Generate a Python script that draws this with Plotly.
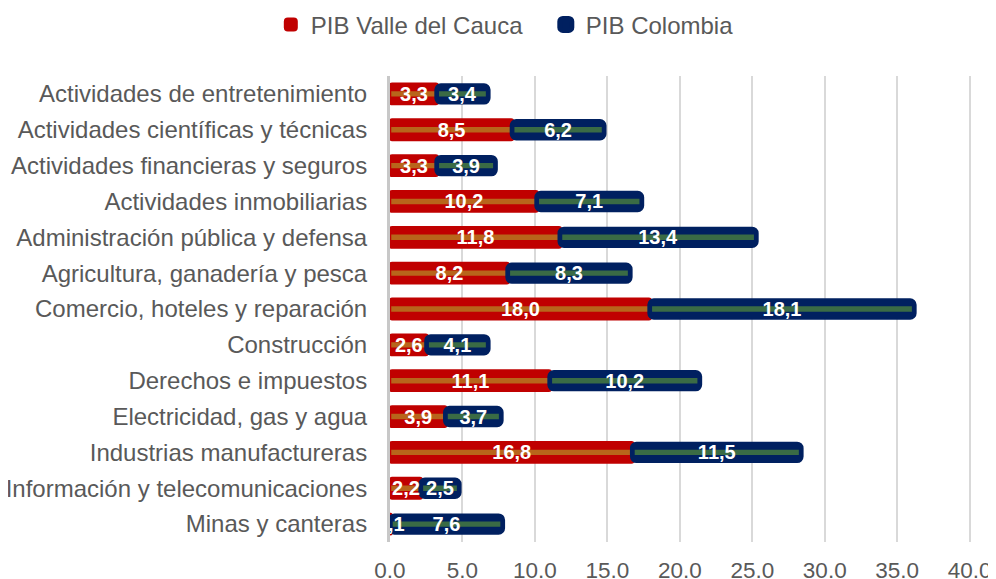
import plotly.graph_objects as go

categories = [
    "Actividades de entretenimiento",
    "Actividades científicas y técnicas",
    "Actividades financieras y seguros",
    "Actividades inmobiliarias",
    "Administración pública y defensa",
    "Agricultura, ganadería y pesca",
    "Comercio, hoteles y reparación",
    "Construcción",
    "Derechos e impuestos",
    "Electricidad, gas y agua",
    "Industrias manufactureras",
    "Información y telecomunicaciones",
    "Minas y canteras",
]
pib_valle = [3.3, 8.5, 3.3, 10.2, 11.8, 8.2, 18.0, 2.6, 11.1, 3.9, 16.8, 2.2, 0.1]
pib_colombia = [3.4, 6.2, 3.9, 7.1, 13.4, 8.3, 18.1, 4.1, 10.2, 3.7, 11.5, 2.5, 7.6]
x_ticks = [0, 5, 10, 15, 20, 25, 30, 35, 40]

RED = "#C00000"
BLUE = "#002060"
ORANGE = "#B8651B"
GREEN = "#3A6B45"
FONT = "Liberation Sans, Arial, sans-serif"

def fmt(v):
    return f"{v:.1f}".replace(".", ",")

label_font = dict(color="white", size=20, family=FONT, weight="bold")
zeros = [0] * len(pib_valle)

fig = go.Figure()

fig.add_trace(go.Bar(
    y=categories, x=pib_valle, base=zeros, orientation="h",
    name="PIB Valle del Cauca", width=0.58,
    marker=dict(color=RED, line=dict(color=RED, width=2), cornerradius=2),
    hoverinfo="skip", showlegend=True,
))
fig.add_trace(go.Bar(
    y=categories, x=pib_valle, base=zeros, orientation="h",
    width=0.22, marker=dict(color=ORANGE, line=dict(color=RED, width=2.5)),
    showlegend=False, hoverinfo="skip",
))
fig.add_trace(go.Bar(
    y=categories, x=pib_colombia, base=pib_valle, orientation="h",
    name="PIB Colombia", width=0.4,
    marker=dict(color=BLUE, line=dict(color=BLUE, width=7), cornerradius=3),
    hoverinfo="skip", showlegend=True,
))
fig.add_trace(go.Bar(
    y=categories, x=pib_colombia, base=pib_valle, orientation="h",
    width=0.22, marker=dict(color=GREEN, line=dict(color=BLUE, width=2.5)),
    text=[fmt(v) for v in pib_colombia], textposition="inside",
    insidetextanchor="middle", textangle=0, constraintext="none",
    textfont=label_font, cliponaxis=True,
    showlegend=False, hoverinfo="skip",
))
# Valle labels drawn on top of every bar
fig.add_trace(go.Bar(
    y=categories, x=pib_valle, base=zeros, orientation="h",
    width=0.22, marker=dict(color="rgba(0,0,0,0)", line=dict(width=0)),
    text=[fmt(v) for v in pib_valle], textposition="inside",
    insidetextanchor="middle", textangle=0, constraintext="none",
    textfont=label_font, cliponaxis=True,
    showlegend=False, hoverinfo="skip",
))

fig.update_layout(
    width=988, height=571,
    margin=dict(l=382, r=22, t=68, b=37, autoexpand=False),
    barmode="overlay",
    plot_bgcolor="white", paper_bgcolor="white",
    font=dict(family=FONT, color="#595959", size=24),
    legend=dict(
        orientation="h", xref="container", yref="paper",
        x=0.266, xanchor="left", y=1.158, yanchor="top",
        font=dict(size=24, color="#595959"), itemwidth=30,
        entrywidth=230, entrywidthmode="pixels",
        traceorder="normal",
    ),
    xaxis=dict(
        range=[0, 40.3], tickvals=x_ticks, tickformat=".1f",
        showgrid=True, gridcolor="#D9D9D9", gridwidth=2,
        zeroline=False, showline=False, ticks="",
        tickfont=dict(size=22.5, color="#595959"),
        ticklabelstandoff=12,
    ),
    yaxis=dict(
        categoryorder="array", categoryarray=categories, autorange="reversed",
        showline=True, linecolor="#C8C8C8", linewidth=3,
        showgrid=False, ticks="", ticklabelstandoff=15,
        tickfont=dict(size=24, color="#595959"),
    ),
)

fig.write_html("out.html")
